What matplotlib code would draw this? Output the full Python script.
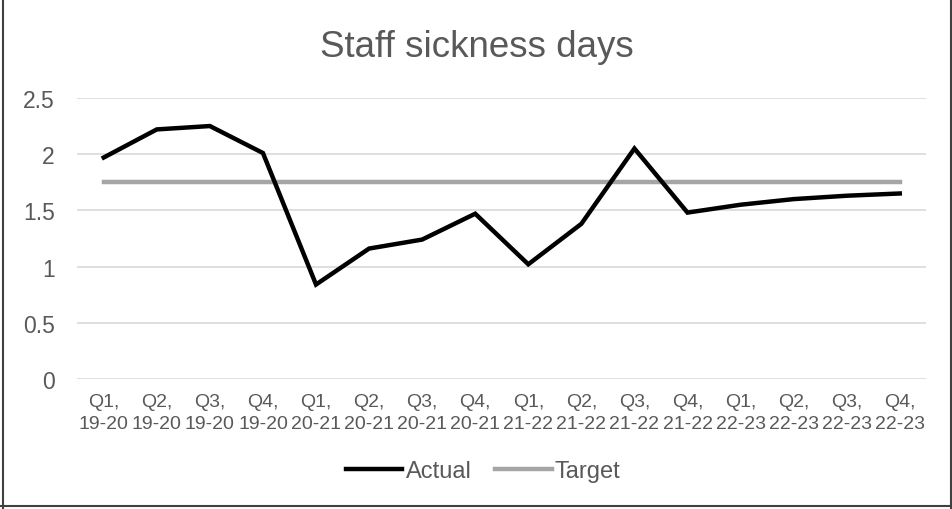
import matplotlib.pyplot as plt
from matplotlib.lines import Line2D

quarters = ["Q1,\n19-20", "Q2,\n19-20", "Q3,\n19-20", "Q4,\n19-20",
            "Q1,\n20-21", "Q2,\n20-21", "Q3,\n20-21", "Q4,\n20-21",
            "Q1,\n21-22", "Q2,\n21-22", "Q3,\n21-22", "Q4,\n21-22",
            "Q1,\n22-23", "Q2,\n22-23", "Q3,\n22-23", "Q4,\n22-23"]
actual = [1.97, 2.22, 2.25, 2.01, 0.84, 1.16, 1.24, 1.47,
          1.02, 1.38, 2.05, 1.48, 1.55, 1.60, 1.63, 1.65]
target = [1.75] * 16
yticks = [0, 0.5, 1, 1.5, 2, 2.5]
ytick_labels = ["0", "0.5", "1", "1.5", "2", "2.5"]

plt.rcParams['font.family'] = ['Liberation Sans', 'DejaVu Sans']

fig = plt.figure(figsize=(9.53, 5.1), dpi=100)
ax = fig.add_axes([0.081, 0.255, 0.891, 0.551])

x = list(range(len(quarters)))
ax.plot(x, actual, color="black", lw=3.2, solid_joinstyle="miter", label="Actual", zorder=3)
ax.plot(x, target, color="#a5a5a5", lw=3.2, label="Target", zorder=2)

ax.set_xlim(-0.5, len(quarters) - 0.5)
ax.set_ylim(0, 2.5)
ax.set_yticks(yticks)
ax.set_yticklabels(ytick_labels)
ax.set_xticks(x)
ax.set_xticklabels(quarters, fontsize=14, linespacing=1.4)
ax.grid(axis="y", color="#d9d9d9", lw=1.2)
ax.set_axisbelow(True)
for s in ax.spines.values():
    s.set_visible(False)
ax.tick_params(axis="both", length=0, colors="#595959")
ax.tick_params(axis="y", labelsize=16.5, pad=16)
ax.tick_params(axis="x", pad=10)

fig.suptitle("Staff sickness days", y=0.942, fontsize=26.5, color="#595959")

handles = [Line2D([], [], color="black", lw=3.2), Line2D([], [], color="#a5a5a5", lw=3.2)]
leg = fig.legend(handles, ["Actual", "Target"], loc="center", bbox_to_anchor=(0.507, 0.074),
                 ncol=2, frameon=False, fontsize=17, handlelength=2.4, handletextpad=0.13,
                 columnspacing=1.0, labelcolor="#595959")

# outer frame (left, right, bottom)
fig.add_artist(Line2D([0.003, 0.003], [0.0, 1.0], color="#404040", lw=1.5, transform=fig.transFigure))
fig.add_artist(Line2D([0.998, 0.998], [0.0, 1.0], color="#404040", lw=1.5, transform=fig.transFigure))
fig.add_artist(Line2D([0.0, 1.0], [0.006, 0.006], color="#404040", lw=1.5, transform=fig.transFigure))

fig.savefig("out.png", dpi=100)
